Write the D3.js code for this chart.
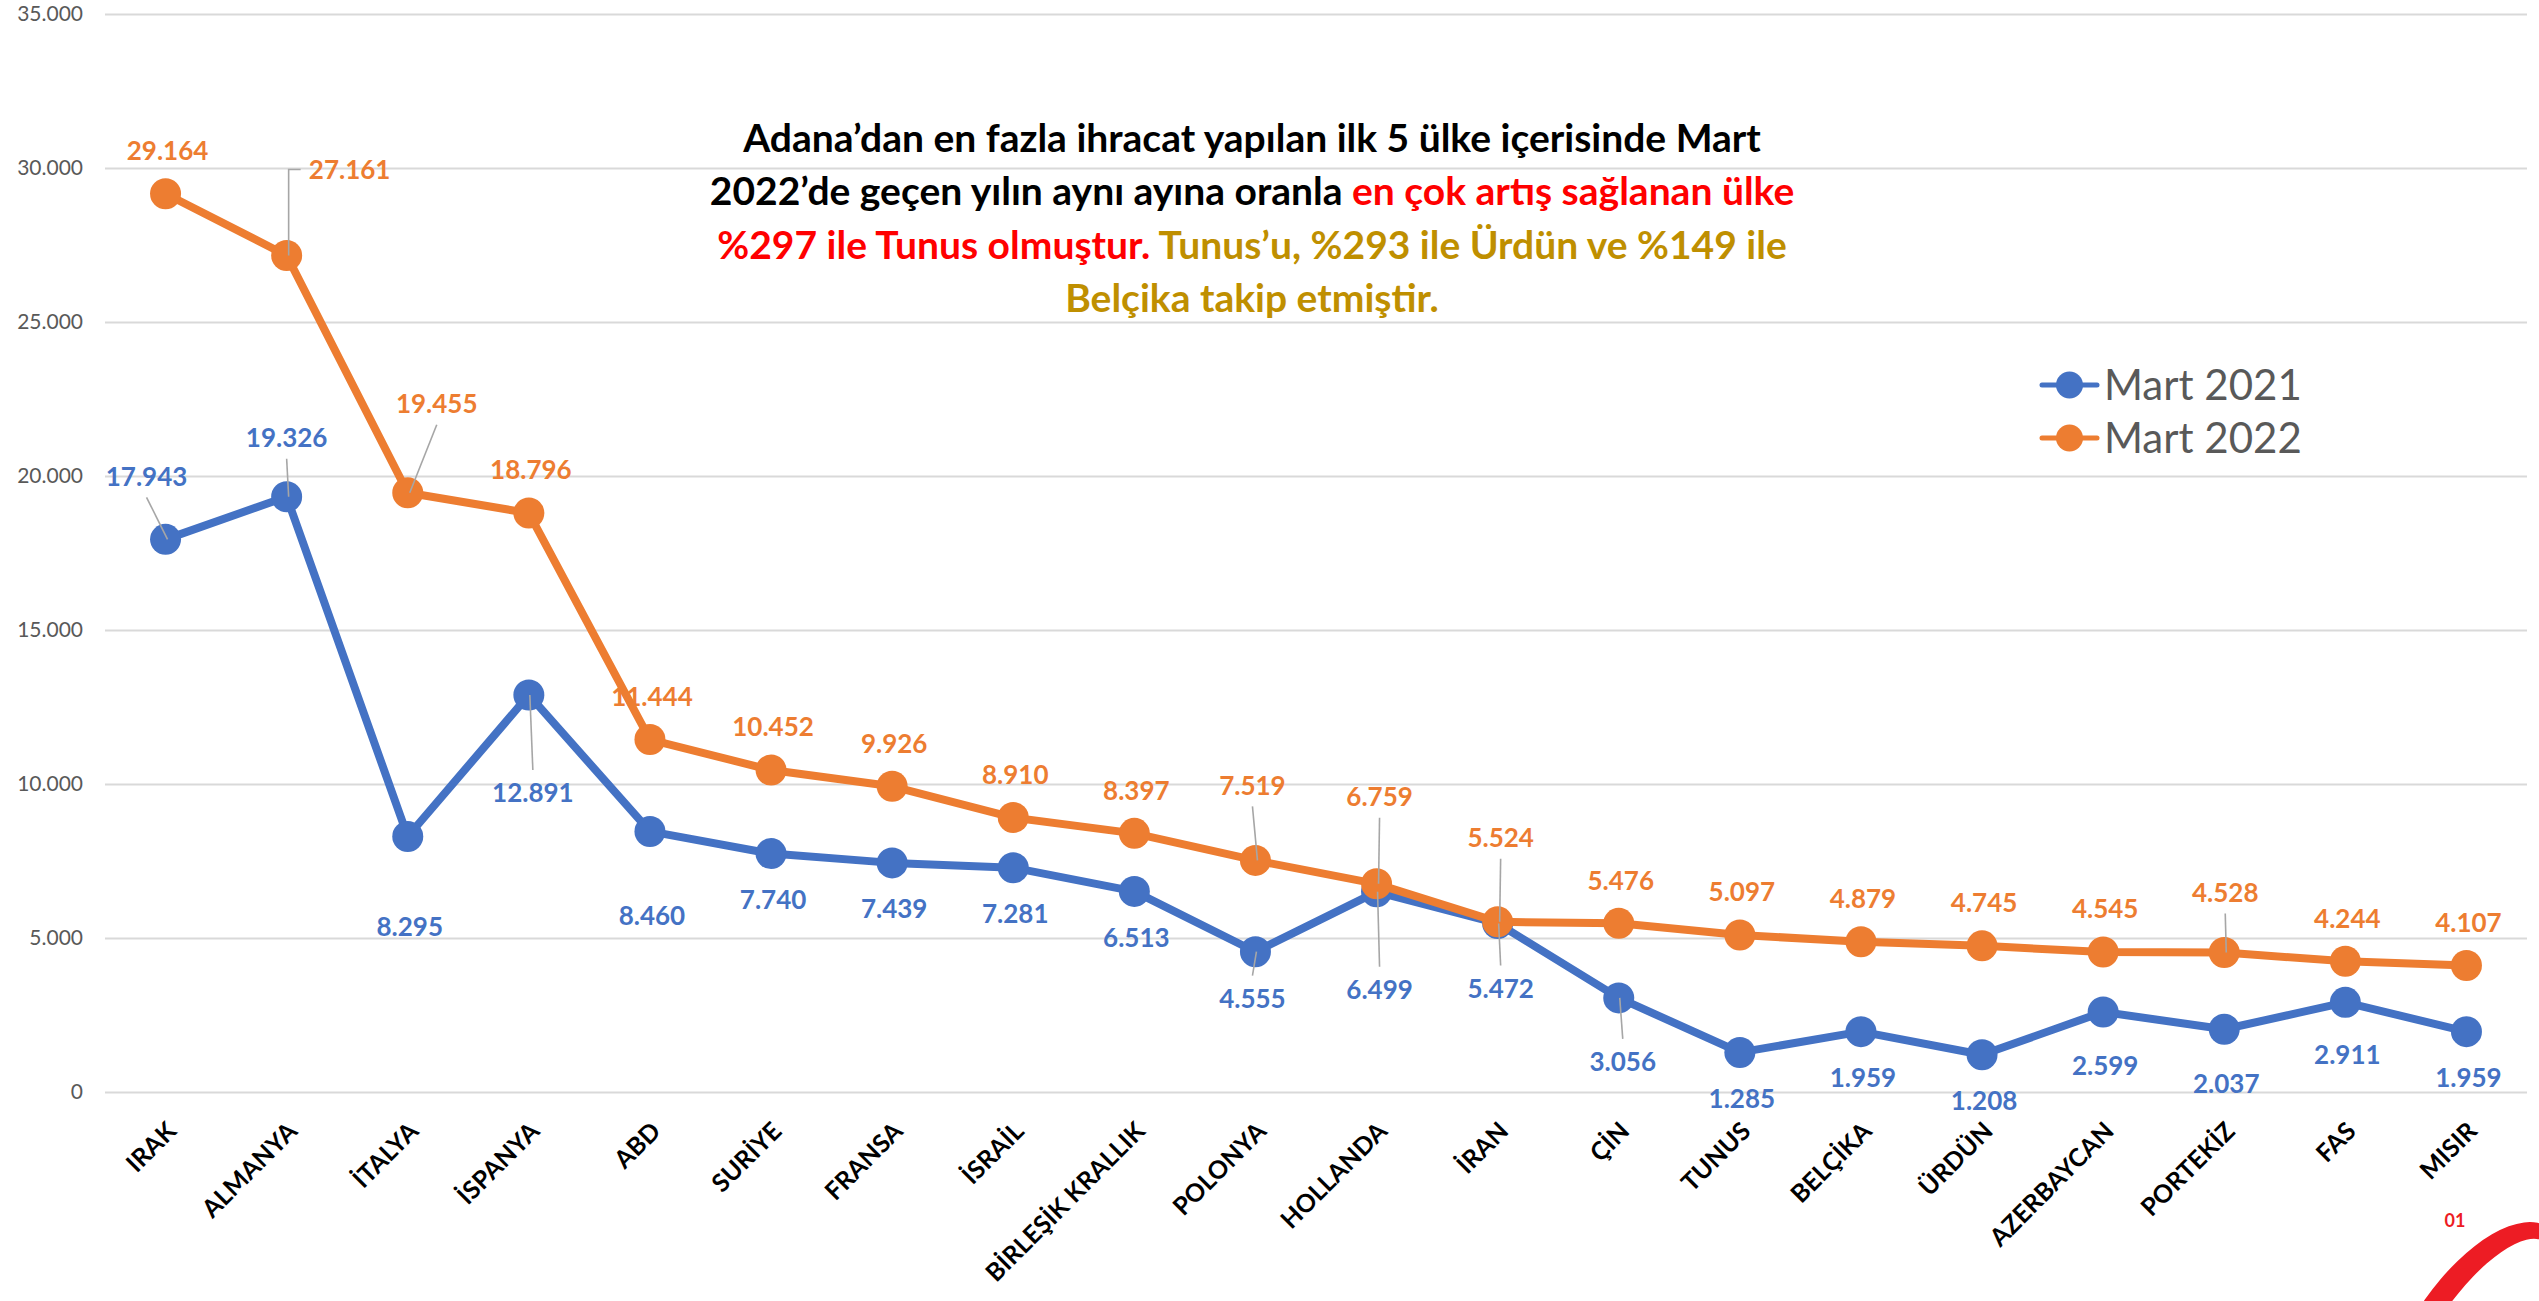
<!DOCTYPE html>
<html>
<head>
<meta charset="utf-8">
<script src="https://cdn.jsdelivr.net/npm/d3@7"></script>
<style>
  body { margin: 0; background: #fff; }
  svg { display: block; font-family: Lato, "Open Sans", sans-serif; }
</style>
</head>
<body>
<svg id="chart"></svg>
<script>
var countries = ["IRAK", "ALMANYA", "İTALYA", "İSPANYA", "ABD", "SURİYE", "FRANSA", "İSRAİL", "BİRLEŞİK KRALLIK", "POLONYA",
                 "HOLLANDA", "İRAN", "ÇİN", "TUNUS", "BELÇİKA", "ÜRDÜN", "AZERBAYCAN", "PORTEKİZ", "FAS", "MISIR"];
var mart2021 = [17943, 19326, 8295, 12891, 8460, 7740, 7439, 7281, 6513, 4555, 6499, 5472, 3056, 1285, 1959, 1208, 2599, 2037, 2911, 1959];
var mart2022 = [29164, 27161, 19455, 18796, 11444, 10452, 9926, 8910, 8397, 7519, 6759, 5524, 5476, 5097, 4879, 4745, 4545, 4528, 4244, 4107];
var seriesNames = ["Mart 2021", "Mart 2022"];
var yTicks = [0, 5000, 10000, 15000, 20000, 25000, 30000, 35000];
var yTickLabels = ["0", "5.000", "10.000", "15.000", "20.000", "25.000", "30.000", "35.000"];

var titleLines = [
    [["Adana’dan en fazla ihracat yapılan ilk 5 ülke içerisinde Mart", "#000"]],
    [["2022’de geçen yılın aynı ayına oranla ", "#000"], ["en çok artış sağlanan ülke", "#FF0000"]],
    [["%297 ile Tunus olmuştur.", "#FF0000"], [" Tunus’u, %293 ile Ürdün ve %149 ile", "#BF8F00"]],
    [["Belçika takip etmiştir.", "#BF8F00"]]
];

// labels dragged by hand in the original: [dx, dy, leader line?]
var moved2021 = { 0: [-19, -63, 1], 1: [0, -59, 1], 2: [2, 90, 0], 3: [4, 98, 1], 4: [2, 84, 0],
                  9: [-3, 47, 1], 10: [3, 98, 1], 11: [3, 65, 1], 12: [4, 64, 1], 16: [2, 54, 0], 17: [2, 54, 0], 18: [2, 52, 0] };
var moved2022 = { 1: [63, -86, 1], 2: [29, -89, 1], 9: [-3, -75, 1], 10: [3, -87, 1], 11: [3, -84, 1], 17: [1, -60, 1] };

var W = 2539, H = 1301;
var plotLeft = 105, plotRight = 2527, plotTop = 14, plotBottom = 1092;
var colors = ["#4472C4", "#ED7D31"];

var svg = d3.select("#chart").attr("width", W).attr("height", H);

var x = d3.scalePoint().domain(countries).range([plotLeft, plotRight]).padding(0.5);
var y = d3.scaleLinear().domain([0, 35000]).range([plotBottom, plotTop]);

var trFormat = d3.formatLocale({ decimal: ",", thousands: ".", grouping: [3], currency: ["", ""] }).format(",d");

//Y axis + gridlines
svg.append("g")
    .attr("transform", "translate(" + plotLeft + ",0)")
    .call(d3.axisLeft(y).tickValues(yTicks).tickFormat(function (d, i) { return yTickLabels[i]; })
        .tickSize(-(plotRight - plotLeft)).tickPadding(22))
    .attr("font-family", "Lato")
    .attr("font-size", 21)
    .call(function (g) { g.select(".domain").remove(); })
    .call(function (g) { g.selectAll(".tick line").attr("stroke", "#D9D9D9").attr("stroke-width", 2); })
    .call(function (g) { g.selectAll(".tick text").attr("fill", "#595959"); });

//X axis
svg.append("g")
    .attr("transform", "translate(0," + plotBottom + ")")
    .call(d3.axisBottom(x).tickSize(0).tickPadding(0))
    .attr("font-family", "Lato")
    .attr("font-size", 25)
    .attr("font-weight", "bold")
    .call(function (g) { g.select(".domain").remove(); })
    .selectAll("text")
    .attr("y", 0)
    .attr("dy", "0.72em")
    .attr("transform", "translate(-1,28) rotate(-45)")
    .style("text-anchor", "end")
    .attr("fill", "#000");

var series = [mart2021, mart2022];
var moved = [moved2021, moved2022];

var line = d3.line().x(function (d, i) { return x(countries[i]); }).y(function (d) { return y(d); });

series.forEach(function (vals, s) {
    svg.append("path")
        .datum(vals)
        .attr("d", line)
        .attr("fill", "none")
        .attr("stroke", colors[s])
        .attr("stroke-width", 8)
        .attr("stroke-linejoin", "round");
    svg.selectAll(".m" + s)
        .data(vals)
        .enter()
        .append("circle")
        .attr("cx", function (d, i) { return x(countries[i]); })
        .attr("cy", function (d) { return y(d); })
        .attr("r", 15.5)
        .attr("fill", colors[s]);
});

//Data labels + leader lines
series.forEach(function (vals, s) {
    vals.forEach(function (v, i) {
        var px = x(countries[i]), py = y(v);
        var off = moved[s][i];
        var dx = off ? off[0] : 2;
        var dy = off ? off[1] : (s === 1 ? -43 : 46);
        var lx = px + dx, ly = py + dy;
        if (off && off[2]) {
            var pts;
            if (Math.abs(dx) > 40) {
                pts = [[px + 2, py], [px + 2, ly], [lx - 49, ly]];
            } else if (dy < 0) {
                pts = [[lx, ly + 21], [px + 2, py]];
            } else {
                pts = [[px + 1, py], [lx, ly - 23]];
            }
            svg.append("path")
                .attr("d", d3.line()(pts))
                .attr("fill", "none")
                .attr("stroke", "#A6A6A6")
                .attr("stroke-width", 1.6);
        }
        svg.append("text")
            .attr("x", lx)
            .attr("y", ly)
            .attr("dy", "0.36em")
            .attr("text-anchor", "middle")
            .style("font-size", "26px")
            .style("font-weight", "bold")
            .attr("fill", colors[s])
            .text(trFormat(v));
    });
});

//Title
var titleBase = [152, 205, 259, 312];
titleLines.forEach(function (parts, li) {
    var t = svg.append("text")
        .attr("x", 1252)
        .attr("y", titleBase[li])
        .attr("text-anchor", "middle")
        .style("font-size", "39px")
        .style("font-weight", "bold");
    parts.forEach(function (p) {
        t.append("tspan").attr("fill", p[1]).text(p[0]);
    });
});

//Legend
var legend = svg.selectAll(".legend")
    .data(seriesNames)
    .enter()
    .append("g")
    .attr("transform", function (d, i) { return "translate(2042," + (385 + i * 53) + ")"; });
legend.append("line")
    .attr("x1", 0).attr("x2", 55)
    .attr("stroke", function (d, i) { return colors[i]; })
    .attr("stroke-width", 5)
    .attr("stroke-linecap", "round");
legend.append("circle")
    .attr("cx", 27.5)
    .attr("r", 13.5)
    .attr("fill", function (d, i) { return colors[i]; });
legend.append("text")
    .attr("x", 62)
    .attr("dy", "0.36em")
    .style("font-size", "42px")
    .attr("fill", "#595959")
    .text(function (d) { return d; });

//Logo corner
var logo = svg.append("g").attr("transform", "translate(2474,1334) rotate(-55)");
logo.append("path")
    .attr("d", "M-130,0a130,60 0 1,0 260,0a130,60 0 1,0 -260,0Z M-112,5a114,42 0 1,0 228,0a114,42 0 1,0 -228,0Z")
    .attr("fill", "#ED1C24")
    .attr("fill-rule", "evenodd");
svg.append("text")
    .attr("x", 2455)
    .attr("y", 1227)
    .attr("text-anchor", "middle")
    .style("font-size", "18px")
    .style("font-weight", "bold")
    .attr("fill", "#ED1C24")
    .text("01");
</script>
</body>
</html>
